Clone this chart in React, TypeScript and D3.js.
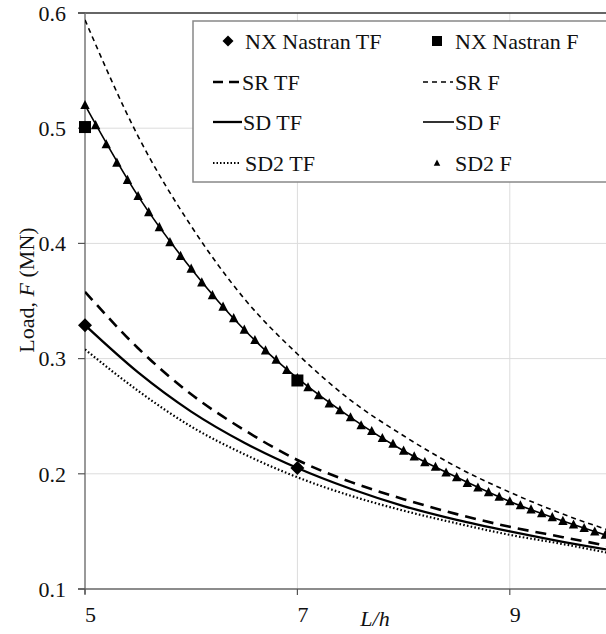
import React from "react";
import * as d3 from "d3";

const xs = [5, 5.5, 6, 6.5, 7, 7.5, 8, 8.5, 9, 9.5, 10];
const srF = [0.594, 0.493, 0.415, 0.352, 0.304, 0.264, 0.233, 0.206, 0.184, 0.165, 0.149];
const sdF = [0.52, 0.441, 0.378, 0.325, 0.283, 0.249, 0.22, 0.197, 0.176, 0.159, 0.144];
const srTF = [0.358, 0.309, 0.269, 0.238, 0.212, 0.193, 0.178, 0.165, 0.154, 0.145, 0.136];
const sdTF = [0.329, 0.288, 0.254, 0.227, 0.205, 0.187, 0.172, 0.16, 0.15, 0.141, 0.133];
const sd2TF = [0.308, 0.272, 0.241, 0.217, 0.197, 0.181, 0.168, 0.157, 0.147, 0.139, 0.13];

const sd2FX = [
  5.0, 5.1, 5.2, 5.3, 5.4, 5.5, 5.6, 5.7, 5.8, 5.9, 6.0, 6.1, 6.2, 6.3, 6.4, 6.5, 6.6, 6.7, 6.8, 6.9,
  7.0, 7.1, 7.2, 7.3, 7.4, 7.5, 7.6, 7.7, 7.8, 7.9, 8.0, 8.1, 8.2, 8.3, 8.4, 8.5, 8.6, 8.7, 8.8, 8.9,
  9.0, 9.1, 9.2, 9.3, 9.4, 9.5, 9.6, 9.7, 9.8, 9.9, 10.0,
];
const sd2F = [
  0.52, 0.5025, 0.486, 0.47, 0.455, 0.441, 0.427, 0.414, 0.401, 0.389, 0.378, 0.366, 0.355, 0.345, 0.335,
  0.325, 0.316, 0.307, 0.299, 0.29, 0.283, 0.275, 0.268, 0.261, 0.255, 0.249, 0.242, 0.237, 0.231, 0.226,
  0.22, 0.215, 0.21, 0.206, 0.201, 0.197, 0.192, 0.188, 0.184, 0.18, 0.176, 0.1726, 0.169, 0.1656, 0.1623,
  0.159, 0.1558, 0.1528, 0.1498, 0.147, 0.144,
];

const nxTFX = [5, 7];
const nxTF = [0.329, 0.205];
const nxFX = [5, 7];
const nxF = [0.501, 0.281];

const xTicks = [5, 7, 9];
const yTicks = [0.1, 0.2, 0.3, 0.4, 0.5, 0.6];

const legendLabels = [
  ["NX Nastran TF", "NX Nastran F"],
  ["SR TF", "SR F"],
  ["SD TF", "SD F"],
  ["SD2 TF", "SD2 F"],
];

const W = 606;
const H = 634;
const FONT = "Liberation Serif";

export default function App() {
  const x = d3.scaleLinear().domain([5, 10]).range([85, 616]);
  const y = d3.scaleLinear().domain([0.1, 0.6]).range([589, 13]);

  const line = (vals: number[], xv: number[] = xs) =>
    d3
      .line<number>()
      .x((_, i) => x(xv[i]))
      .y((d) => y(d))
      .curve(d3.curveMonotoneX)(vals) as string;

  const diamondPath = (s: number) => `M0,${-s}L${s},0L0,${s}L${-s},0Z`;
  const tri = (s: number) => `M0,${-s}L${s * 0.9},${s * 0.75}L${-s * 0.9},${s * 0.75}Z`;

  const series = [
    { vals: srF, stroke: 1.6, dash: "5,4" },
    { vals: sdF, stroke: 1.6, dash: null },
    { vals: srTF, stroke: 2.6, dash: "11,7" },
    { vals: sdTF, stroke: 2.3, dash: null },
    { vals: sd2TF, stroke: 2.2, dash: "1.6,2.2" },
  ];

  const legendRows = [41, 82, 122, 163];
  const col1Text = [245, 242, 243, 245];
  const col2Text = 455;
  const lx1 = 213;
  const lx2 = 423;

  const T = (props: any) => (
    <text fontFamily={FONT} fontSize={22} fill="#111" {...props} />
  );

  return (
    <svg
      width={W}
      height={H}
      style={{ position: "absolute", left: 0, top: 0, background: "#fff" }}
    >
      <defs>
        <clipPath id="plot">
          <rect x={85} y={8} width={W - 85} height={589 - 8} />
        </clipPath>
      </defs>
      {yTicks.slice(1, 5).map((t) => (
        <line key={"gy" + t} x1={85} x2={W} y1={y(t)} y2={y(t)} stroke="#dcdcdc" strokeWidth={1} />
      ))}
      {xTicks.slice(1).map((t) => (
        <line key={"gx" + t} x1={x(t)} x2={x(t)} y1={13} y2={589} stroke="#dcdcdc" strokeWidth={1} />
      ))}
      <line x1={78} x2={W} y1={y(0.6)} y2={y(0.6)} stroke="#333" strokeWidth={1.3} />
      <line x1={85} x2={85} y1={13} y2={594} stroke="#777" strokeWidth={1.5} />
      <line x1={78} x2={W} y1={589} y2={589} stroke="#666" strokeWidth={1.5} />
      {yTicks.map((t) => (
        <g key={"yt" + t}>
          <line x1={78} x2={85} y1={y(t)} y2={y(t)} stroke="#555" strokeWidth={1.2} />
          <T x={66} y={y(t)} dy="0.35em" textAnchor="end">
            {t.toFixed(1)}
          </T>
        </g>
      ))}
      {xTicks.map((t) => (
        <g key={"xt" + t}>
          <line x1={x(t)} x2={x(t)} y1={589} y2={595} stroke="#555" strokeWidth={1.2} />
          <T x={x(t)} y={622} textAnchor="start">
            {t}
          </T>
        </g>
      ))}
      <T x={375} y={626} textAnchor="middle" fontStyle="italic">
        L/h
      </T>
      <T transform={`translate(34,290) rotate(-90)`} textAnchor="middle">
        Load, <tspan fontStyle="italic">F</tspan> (MN)
      </T>

      <g clipPath="url(#plot)">
        {series.map((s, i) => (
          <path
            key={i}
            d={line(s.vals)}
            fill="none"
            stroke="#000"
            strokeWidth={s.stroke}
            strokeDasharray={s.dash || undefined}
          />
        ))}
      </g>
      {sd2F.map((v, i) => (
        <path key={"t" + i} d={tri(5.2)} transform={`translate(${x(sd2FX[i])},${y(v)})`} fill="#000" />
      ))}
      {nxTF.map((v, i) => (
        <path key={"d" + i} d={diamondPath(7)} transform={`translate(${x(nxTFX[i])},${y(v)})`} fill="#000" />
      ))}
      {nxF.map((v, i) => (
        <rect key={"s" + i} x={x(nxFX[i]) - 6} y={y(v) - 6} width={12} height={12} fill="#000" />
      ))}

      <rect x={193} y={21} width={430} height={161} fill="#fff" stroke="#888" strokeWidth={1.5} />
      <path d={diamondPath(5.5)} transform={`translate(228,${legendRows[0]})`} fill="#000" />
      <rect x={432} y={legendRows[0] - 5} width={10} height={10} fill="#000" />
      <line x1={lx1} x2={241} y1={legendRows[1]} y2={legendRows[1]} stroke="#000" strokeWidth={2.6} strokeDasharray="10,6" />
      <line x1={lx2} x2={453} y1={legendRows[1]} y2={legendRows[1]} stroke="#000" strokeWidth={1.6} strokeDasharray="5,4" />
      <line x1={lx1} x2={242} y1={legendRows[2]} y2={legendRows[2]} stroke="#000" strokeWidth={2.3} />
      <line x1={lx2} x2={454} y1={legendRows[2]} y2={legendRows[2]} stroke="#000" strokeWidth={1.6} />
      <line x1={lx1} x2={241} y1={legendRows[3]} y2={legendRows[3]} stroke="#000" strokeWidth={2} strokeDasharray="1.5,2" />
      <path d={tri(3.6)} transform={`translate(437,${legendRows[3]})`} fill="#000" />
      {legendLabels.map((row, r) => (
        <g key={"lg" + r}>
          <T x={col1Text[r]} y={legendRows[r]} dy="0.35em">{row[0]}</T>
          <T x={col2Text} y={legendRows[r]} dy="0.35em">{row[1]}</T>
        </g>
      ))}
    </svg>
  );
}
